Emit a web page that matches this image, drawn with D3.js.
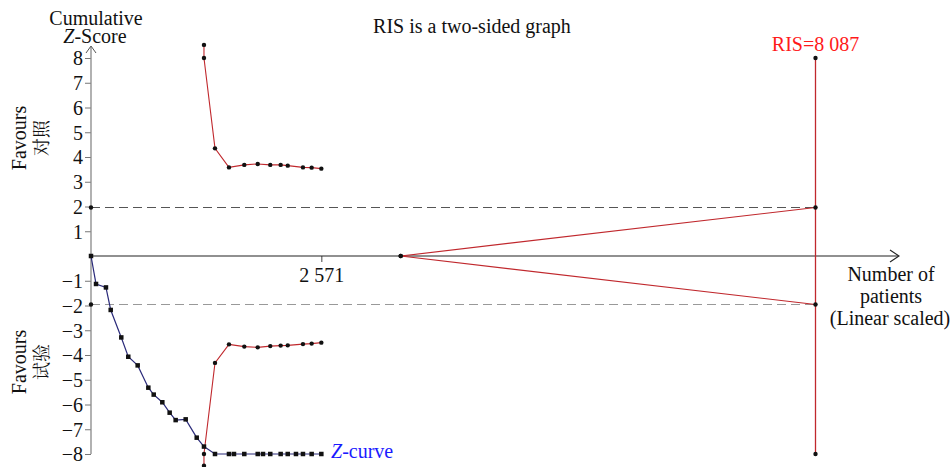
<!DOCTYPE html>
<html>
<head>
<meta charset="utf-8">
<script src="https://cdn.jsdelivr.net/npm/d3@7/dist/d3.min.js"></script>
<style>
  html, body { margin: 0; padding: 0; background: #fff; }
  svg { display: block; }
</style>
</head>
<body>
<svg id="chart" width="952" height="467"></svg>
<script>
// Cumulative Z-curve (patients, Z)
const zPatients = [0, 56, 167, 220, 338, 416, 521, 640, 700, 796, 878, 945, 1057, 1180, 1261,
                   1384, 1540, 1596, 1711, 1861, 1920, 2001, 2117, 2196, 2288, 2366, 2463, 2571];
const zValues   = [0, -1.13, -1.27, -2.18, -3.29, -4.07, -4.42, -5.32, -5.60, -5.91, -6.33, -6.63, -6.60, -7.34, -7.70,
                   -8, -8, -8, -8, -8, -8, -8, -8, -8, -8, -8, -8, -8];

// Trial sequential monitoring boundaries
const bPatients = [1261, 1261, 1384, 1540, 1711, 1861, 2001, 2117, 2196, 2366, 2463, 2571];
const upperBound = [8.53, 8.0, 4.35, 3.58, 3.68, 3.72, 3.68, 3.68, 3.65, 3.58, 3.57, 3.53];
const lowerBound = [-8.47, -8.0, -4.32, -3.57, -3.66, -3.69, -3.64, -3.62, -3.61, -3.56, -3.54, -3.50];

// Inner wedge boundaries from the start point to the RIS
const wedgePatients = [3457, 8087];
const wedgeUpper = [0, 1.96];
const wedgeLower = [0, -1.96];

// Conventional significance level and required information size
const zCrit = 1.96;
const risValue = 8087;
const xTickValues = [2571];
const yTickValues = [-8, -7, -6, -5, -4, -3, -2, -1, 1, 2, 3, 4, 5, 6, 7, 8];

const SERIF = "'Liberation Serif', 'Times New Roman', Tinos, 'Nimbus Roman', 'DejaVu Serif', serif";
const CJK = "'Noto Serif CJK SC', 'Noto Sans CJK SC', sans-serif";

const svg = d3.select("#chart").attr("font-family", SERIF);
const x = d3.scaleLinear().domain([0, risValue]).range([91, 815.5]);
const y = d3.scaleLinear().domain([-8, 8]).range([454, 58]);

const spaceFmt = v => d3.format(",")(v).replace(/,/g, " ");
const minusFmt = v => (v < 0 ? "\u2212" + Math.abs(v) : String(v));

// Dashed reference lines at ±1.96
svg.append("line")
  .attr("x1", x(0)).attr("x2", x(risValue))
  .attr("y1", y(zCrit)).attr("y2", y(zCrit))
  .attr("stroke", "#555").attr("stroke-width", 1.2).attr("stroke-dasharray", "9,5");
svg.append("line")
  .attr("x1", x(0)).attr("x2", x(risValue))
  .attr("y1", y(-zCrit)).attr("y2", y(-zCrit))
  .attr("stroke", "#999").attr("stroke-width", 1.2).attr("stroke-dasharray", "9,5");

// X axis (horizontal line through zero)
const xAxis = d3.axisBottom(x).tickValues(xTickValues).tickSize(6).tickFormat(spaceFmt);
const gx = svg.append("g").attr("transform", `translate(0,${y(0)})`).call(xAxis)
  .attr("font-family", SERIF);
gx.select(".domain").remove();
gx.selectAll(".tick line").attr("stroke", "#444");
gx.selectAll(".tick text").attr("font-size", 20).attr("fill", "#111")
  .attr("y", 0).attr("dy", 26);
svg.append("line")
  .attr("x1", x(0)).attr("x2", 898).attr("y1", y(0)).attr("y2", y(0))
  .attr("stroke", "#222").attr("stroke-width", 1.2);
svg.append("path")
  .attr("d", `M890,${y(0) - 6} L899,${y(0)} L890,${y(0) + 6}`)
  .attr("fill", "none").attr("stroke", "#222").attr("stroke-width", 1.1);

// Y axis
const yAxis = d3.axisLeft(y).tickValues(yTickValues).tickSize(6).tickFormat(minusFmt);
const gy = svg.append("g").attr("transform", `translate(${x(0)},0)`).call(yAxis)
  .attr("font-family", SERIF);
gy.select(".domain").remove();
gy.selectAll(".tick line").attr("stroke", "#777");
gy.selectAll(".tick text").attr("font-size", 20).attr("fill", "#111")
  .attr("x", -8).attr("dy", "0.34em");
svg.append("line")
  .attr("x1", x(0)).attr("x2", x(0)).attr("y1", y(-8)).attr("y2", 47)
  .attr("stroke", "#888").attr("stroke-width", 1.3);
svg.append("path")
  .attr("d", `M${x(0) - 5},53 L${x(0)},46 L${x(0) + 5},53`)
  .attr("fill", "none").attr("stroke", "#555").attr("stroke-width", 1);

// Wedge lines to the RIS
const red = "#c0282d";
const line = d3.line().x(d => x(d[0])).y(d => y(d[1]));
const wU = wedgePatients.map((p, i) => [p, wedgeUpper[i]]);
const wL = wedgePatients.map((p, i) => [p, wedgeLower[i]]);
svg.append("path").attr("d", line(wU)).attr("fill", "none").attr("stroke", red).attr("stroke-width", 1.2);
svg.append("path").attr("d", line(wL)).attr("fill", "none").attr("stroke", red).attr("stroke-width", 1.2);

// RIS vertical line
svg.append("line")
  .attr("x1", x(risValue)).attr("x2", x(risValue)).attr("y1", y(8)).attr("y2", y(-8))
  .attr("stroke", red).attr("stroke-width", 1.3);

// Monitoring boundaries
const up = bPatients.map((p, i) => [p, upperBound[i]]);
const lo = bPatients.map((p, i) => [p, lowerBound[i]]);
svg.append("path").attr("d", line(up)).attr("fill", "none").attr("stroke", red).attr("stroke-width", 1.1);
svg.append("path").attr("d", line(lo)).attr("fill", "none").attr("stroke", red).attr("stroke-width", 1.1);

// Z-curve
const zc = zPatients.map((p, i) => [p, zValues[i]]);
svg.append("path").attr("d", line(zc)).attr("fill", "none").attr("stroke", "#2a2a7a").attr("stroke-width", 1.2);
svg.selectAll("rect.zpt").data(zc).enter().append("rect").attr("class", "zpt")
  .attr("x", d => x(d[0]) - 2.25).attr("y", d => y(d[1]) - 2.25)
  .attr("width", 4.5).attr("height", 4.5).attr("fill", "#111");

// Boundary dots
const dots = up.concat(lo, wU, wL,
  [[risValue, 8], [risValue, -8], [0, zCrit], [0, -zCrit]]);
svg.selectAll("circle.bpt").data(dots).enter().append("circle").attr("class", "bpt")
  .attr("cx", d => x(d[0])).attr("cy", d => y(d[1])).attr("r", 2.2).attr("fill", "#111");

// Texts
svg.append("text").attr("x", 96).attr("y", 25).attr("text-anchor", "middle")
  .attr("font-size", 20).attr("fill", "#111").text("Cumulative");
const zs = svg.append("text").attr("x", 95).attr("y", 43).attr("text-anchor", "middle")
  .attr("font-size", 20).attr("fill", "#111");
zs.append("tspan").attr("font-style", "italic").text("Z");
zs.append("tspan").text("-Score");

svg.append("text").attr("x", 472).attr("y", 33).attr("text-anchor", "middle")
  .attr("font-size", 20).attr("fill", "#111").text("RIS is a two-sided graph");

svg.append("text").attr("x", x(risValue)).attr("y", 51).attr("text-anchor", "middle")
  .attr("font-size", 20).attr("fill", "#ff1a1a").text("RIS=" + spaceFmt(risValue));

const nl = svg.append("g").attr("font-size", 20).attr("fill", "#111").attr("text-anchor", "middle");
nl.append("text").attr("x", 891).attr("y", 281).text("Number of");
nl.append("text").attr("x", 891).attr("y", 303).text("patients");
nl.append("text").attr("x", 890).attr("y", 325).text("(Linear scaled)");

const zl = svg.append("text").attr("x", 331).attr("y", 458)
  .attr("font-size", 20).attr("fill", "#1a1aff");
zl.append("tspan").attr("font-style", "italic").text("Z");
zl.append("tspan").text("-curve");

// Side labels
function sideLabel(cy, cn) {
  const g = svg.append("g").attr("transform", `translate(0,${cy}) rotate(-90)`).attr("fill", "#111");
  g.append("text").attr("x", 0).attr("y", 26).attr("text-anchor", "middle")
    .attr("font-size", 20).text("Favours");
  g.append("text").attr("font-family", CJK).attr("x", 0).attr("y", 48).attr("text-anchor", "middle")
    .attr("font-size", 18).text(cn);
}
sideLabel(138, "对照");
sideLabel(362, "试验");
</script>
</body>
</html>
